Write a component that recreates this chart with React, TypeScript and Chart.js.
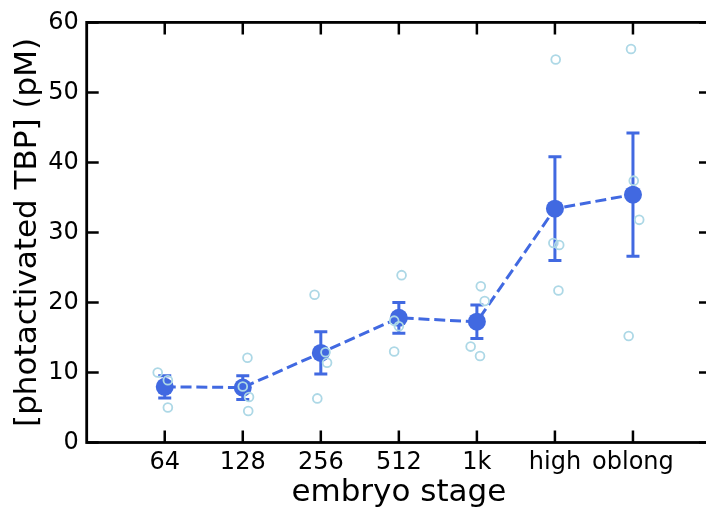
import React, { useEffect, useRef } from 'react';
import { Chart, registerables } from 'chart.js';

Chart.register(...registerables);

const stages = ['64', '128', '256', '512', '1k', 'high', 'oblong'];
const meanValues = [7.95, 7.85, 12.8, 17.8, 17.25, 33.4, 35.4];
const errValues = [1.6, 1.7, 3.0, 2.2, 2.4, 7.4, 8.8];
const replicateValues = [
  [10.0, 8.9, 5.0],
  [12.1, 8.0, 6.5, 4.5],
  [21.1, 12.9, 11.4, 6.3],
  [23.9, 17.4, 16.6, 13.0],
  [22.3, 20.2, 13.7, 12.35],
  [54.7, 28.5, 28.2, 21.7],
  [56.2, 37.4, 31.8, 15.2],
];
const replicateJitter = [
  [-0.09, 0.04, 0.04],
  [0.06, 0.0, 0.08, 0.07],
  [-0.08, 0.06, 0.08, -0.045],
  [0.035, -0.06, 0.0, -0.06],
  [0.05, 0.1, -0.08, 0.04],
  [0.01, -0.02, 0.055, 0.045],
  [-0.025, 0.01, 0.08, -0.055],
];
const yTicks = [0, 10, 20, 30, 40, 50, 60];

const MEAN_COLOR = '#4169e1';
const REP_COLOR = '#add8e6';
const FONT = 'DejaVu Sans';

const errorBarPlugin = {
  id: 'errorBars',
  beforeDatasetsDraw(chart: any) {
    const { ctx, scales } = chart;
    const xs = scales.x;
    const ys = scales.y;
    ctx.save();
    ctx.strokeStyle = MEAN_COLOR;
    ctx.lineWidth = 3;
    ctx.setLineDash([]);
    meanValues.forEach((m, i) => {
      const px = xs.getPixelForValue(i + 1);
      const top = ys.getPixelForValue(m + errValues[i]);
      const bot = ys.getPixelForValue(m - errValues[i]);
      ctx.beginPath();
      ctx.moveTo(px, top);
      ctx.lineTo(px, bot);
      ctx.moveTo(px - 6.5, top);
      ctx.lineTo(px + 6.5, top);
      ctx.moveTo(px - 6.5, bot);
      ctx.lineTo(px + 6.5, bot);
      ctx.stroke();
    });
    ctx.restore();
  },
};

const framePlugin = {
  id: 'frame',
  afterDatasetsDraw(chart: any) {
    const { ctx, chartArea, scales } = chart;
    const { left, right, top, bottom } = chartArea;
    const xs = scales.x;
    const ys = scales.y;
    const tl = 12;
    ctx.save();
    ctx.setLineDash([]);
    ctx.strokeStyle = '#000';
    ctx.lineWidth = 2.5;
    ctx.beginPath();
    stages.forEach((_, i) => {
      const px = xs.getPixelForValue(i + 1);
      ctx.moveTo(px, bottom);
      ctx.lineTo(px, bottom - tl);
      ctx.moveTo(px, top);
      ctx.lineTo(px, top + tl);
    });
    yTicks.forEach((v) => {
      const py = ys.getPixelForValue(v);
      ctx.moveTo(left, py);
      ctx.lineTo(left + tl, py);
      ctx.moveTo(right, py);
      ctx.lineTo(right - tl, py);
    });
    ctx.stroke();
    ctx.lineWidth = 2.8;
    ctx.strokeRect(left, top, right - left, bottom - top);
    ctx.restore();
  },
};

export default function App() {
  const ref = useRef<HTMLCanvasElement | null>(null);
  useEffect(() => {
    if (!ref.current) return;
    const repPoints: { x: number; y: number }[] = [];
    replicateValues.forEach((vals, i) => {
      vals.forEach((v, j) => repPoints.push({ x: i + 1 + replicateJitter[i][j], y: v }));
    });
    const meanPoints = meanValues.map((v, i) => ({ x: i + 1, y: v }));
    const chart = new Chart(ref.current, {
      type: 'scatter',
      data: {
        datasets: [
          {
            type: 'scatter',
            label: 'replicates',
            data: repPoints,
            pointRadius: 4.4,
            pointBorderWidth: 1.8,
            borderColor: REP_COLOR,
            backgroundColor: 'rgba(0,0,0,0)',
            pointBackgroundColor: 'rgba(0,0,0,0)',
            pointBorderColor: REP_COLOR,
            order: 0,
          },
          {
            type: 'line',
            label: 'mean',
            data: meanPoints,
            borderColor: MEAN_COLOR,
            borderWidth: 3,
            borderDash: [11, 4.8],
            pointRadius: 9,
            pointBackgroundColor: MEAN_COLOR,
            pointBorderWidth: 0,
            showLine: true,
            fill: false,
            tension: 0,
            order: 1,
          } as any,
        ],
      },
      options: {
        responsive: false,
        animation: false,
        devicePixelRatio: 1,
        layout: { padding: { left: 0, right: 7.7, top: 20.5, bottom: 0 } },
        plugins: { legend: { display: false }, tooltip: { enabled: false } },
        scales: {
          x: {
            type: 'linear',
            position: 'bottom',
            min: 0,
            max: 8,
            grid: { display: false, drawTicks: false },
            border: { display: false },
            afterBuildTicks: (s: any) => {
              s.ticks = stages.map((_, i) => ({ value: i + 1 }));
            },
            afterFit: (s: any) => {
              s.height = 69.5;
            },
            ticks: {
              autoSkip: false,
              maxRotation: 0,
              minRotation: 0,
              padding: 5.5,
              color: '#000',
              font: { family: FONT, size: 24 },
              callback: (v: any) => stages[Number(v) - 1] ?? '',
            },
            title: {
              display: true,
              text: 'embryo stage',
              color: '#000',
              font: { family: FONT, size: 31 },
              padding: { top: 0, bottom: 0 },
            },
          },
          y: {
            type: 'linear',
            min: 0,
            max: 60,
            grid: { display: false, drawTicks: false },
            border: { display: false },
            afterBuildTicks: (s: any) => {
              s.ticks = yTicks.map((v) => ({ value: v }));
            },
            afterFit: (s: any) => {
              s.width = 86.7;
            },
            ticks: {
              padding: 8,
              color: '#000',
              font: { family: FONT, size: 24 },
              callback: (v: any) => String(v),
            },
            title: {
              display: true,
              text: '[photactivated TBP] (pM)',
              color: '#000',
              font: { family: FONT, size: 31 },
              padding: { top: 9.5, bottom: 0 },
            },
          },
        },
      },
      plugins: [errorBarPlugin, framePlugin],
    });
    return () => chart.destroy();
  }, []);
  return (
    <div
      style={{
        position: 'fixed',
        left: 0,
        top: 0,
        width: 706,
        height: 512,
        overflow: 'hidden',
        background: '#fff',
      }}
    >
      <canvas ref={ref} width={720} height={512} style={{ display: 'block', width: 720, height: 512 }} />
    </div>
  );
}
